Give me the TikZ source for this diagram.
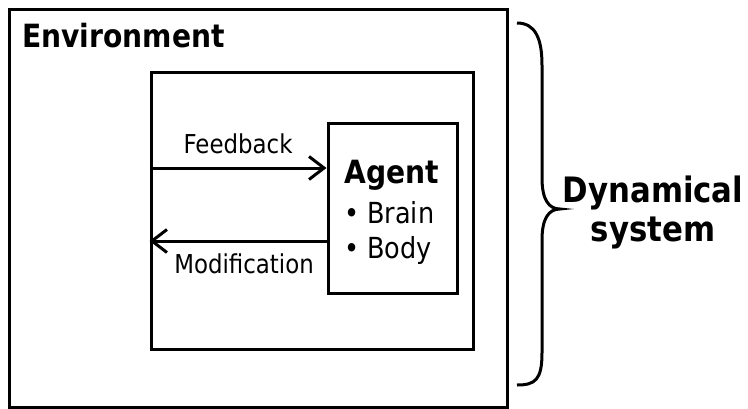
\documentclass[tikz,border=0pt]{standalone}
\usepackage{fontspec}
\setmainfont[FakeStretch=0.88]{DejaVu Sans}
\usetikzlibrary{arrows.meta,positioning}

\tikzset{
  box/.style={draw, line width=3pt, inner sep=0pt},
  flow/.style={line width=3pt,
    -{Straight Barb[length=15pt,width=23pt,line width=3pt]}},
  lbl/.style={font=\fontsize{26}{30}\selectfont, inner sep=0pt},
  item/.style={font=\fontsize{29}{33}\selectfont, inner sep=0pt},
  ttl/.style={font=\fontsize{32}{36}\selectfont\bfseries, inner sep=0pt},
  dyn/.style={font=\fontsize{35}{40}\selectfont\bfseries, inner sep=0pt},
}

\begin{document}
\begin{tikzpicture}[x=1pt,y=-1pt]
  \useasboundingbox (0,0) rectangle (748,408);

  % Scatole: ambiente, mondo interno, agente
  \node[box, minimum width=498pt, minimum height=398pt] (env)   at (258,208)   {};
  \node[box, minimum width=322pt, minimum height=277pt] (world) at (312,210.5) {};
  \node[box, minimum width=129pt, minimum height=170pt] (agent) at (392.5,208) {};

  % Titolo ambiente
  \node[ttl, anchor=base west] (envlbl) at (22,47) {Environment};

  % Testo agente
  \node[ttl, anchor=base] (agtitle) at (392,183) {Agent};
  \node[item, anchor=base west] (brain) at (344,223) {• Brain};
  \node[item, anchor=base west] (body)  at (344,258) {• Body};

  % Frecce retroazione / modifica
  \coordinate (fbend) at ([yshift=40pt]agent.west);
  \coordinate (mdbeg) at ([yshift=-33pt]agent.west);
  \draw[flow] (world.west |- fbend) -- (fbend);
  \draw[flow] (mdbeg) -- (world.west |- mdbeg);

  % Etichette frecce
  \node[lbl, anchor=base] (fblbl) at (238,153) {Feedback};
  \node[lbl, anchor=base] (mdlbl) at (244,273) {Modification};

  % Graffa sistema dinamico
  \coordinate (btop) at (517,23);
  \coordinate (btip) at (560,209);
  \coordinate (bbot) at (517,385);
  \draw[line width=3pt]
    (btop) .. controls (535,23) and (542,38) .. (542,65)
    -- (542,178) .. controls (542,200) and (549,209) .. (btip)
    .. controls (549,209) and (542,218) .. (542,240)
    -- (542,353) .. controls (542,380) and (535,385) .. (bbot);
  \node[dyn, anchor=base] (dyn1) at (653,202) {Dynamical};
  \node[dyn, anchor=base] (dyn2) at (653,241) {system};
\end{tikzpicture}
\end{document}
